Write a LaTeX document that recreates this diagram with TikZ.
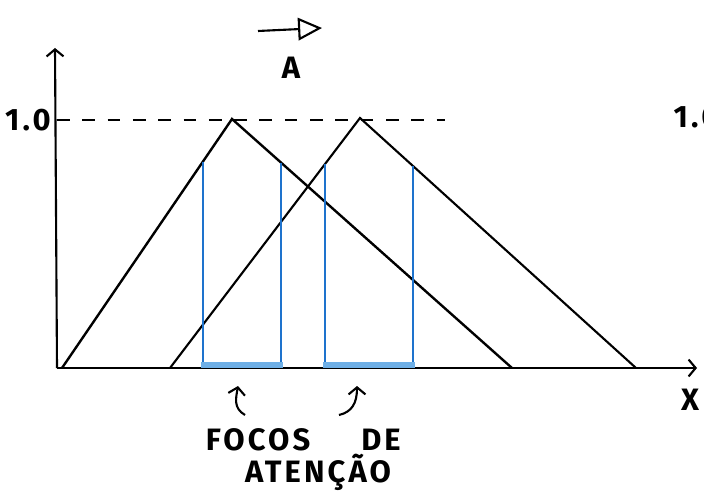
\documentclass[tikz,border=0pt]{standalone}
\usepackage{fontspec}
\newfontfamily\handfont{Fira Sans}[LetterSpace=10]
\usetikzlibrary{arrows.meta,calc}

\definecolor{focusline}{RGB}{30,115,205}
\definecolor{focusbar}{RGB}{110,175,230}

\begin{document}
\begin{tikzpicture}[x=0.025cm, y=-0.025cm, line width=1.5pt,
    every node/.style={font=\handfont\bfseries\fontsize{22}{24}\selectfont},
    axisarrow/.style={-{Straight Barb[length=5pt,width=12pt]}},
    focus/.style={focusline, line width=1.1pt},
    bar/.style={focusbar, line width=4.5pt}]
 \useasboundingbox (0,0) rectangle (704,498);
 % axes
 \coordinate (origin) at (57,368);
 \coordinate (ytop) at (55,48);
 \coordinate (xend) at (697,368);
 \draw[axisarrow] (origin) -- (ytop);
 \draw[axisarrow] (origin) -- (xend);
 \node (X) at (690,400) {X};
 % level 1.0
 \node (one) at (28,120) {1.0};
 \node[anchor=west] (oneR) at (668,117) {1.0};
 \coordinate (tick) at (57,120);
 \coordinate (dashend) at (445,120);
 \draw[dashed, dash pattern=on 9pt off 9pt] (tick) -- (dashend);
 % fuzzy set A and its shift
 \coordinate (a0) at (62,368);
 \coordinate (a1) at (232,119);
 \coordinate (a2) at (512,368);
 \coordinate (c0) at (170,368);
 \coordinate (c1) at (360,118);
 \coordinate (c2) at (636,368);
 \draw[line width=1.7pt] (a0) -- (a1) -- (a2);
 \draw (c0) -- (c1) -- (c2);
 \node (A) at (291,68) {A};
 \coordinate (shiftL) at (258,31);
 \coordinate (shiftR) at (322,28);
 \draw[-{Triangle[open,length=17pt,width=16pt]}] (shiftL) -- (shiftR);
 % focos
 \coordinate (f1) at ($(a0)!0.829!(a1)$);
 \coordinate (f2) at ($(a1)!0.175!(a2)$);
 \coordinate (f3) at ($(c0)!0.816!(c1)$);
 \coordinate (f4) at ($(c1)!0.192!(c2)$);
 \foreach \f in {f1,f2,f3,f4}
   \draw[focus] (\f) -- (\f |- origin);
 \draw[bar] ($(f1 |- origin)+(-2,-3)$) -- ($(f2 |- origin)+(2,-3)$);
 \draw[bar] ($(f3 |- origin)+(-2,-3)$) -- ($(f4 |- origin)+(2,-3)$);
 % pointers
 \coordinate (p1) at (245,415);
 \coordinate (q1) at (238,386);
 \coordinate (p2) at (339,415);
 \coordinate (q2) at (357,386);
 \draw[-{Straight Barb[length=5pt,width=12pt]}] (p1) .. controls (233,408) and (236,398) .. (q1);
 \draw[-{Straight Barb[length=5pt,width=12pt]}] (p2) .. controls (352,412) and (357,403) .. (q2);
 \node (focos) at (258,440) {FOCOS};
 \node (de) at (381,440) {DE};
 \node (atencao) at (318,472) {ATENÇÃO};
\end{tikzpicture}
\end{document}
